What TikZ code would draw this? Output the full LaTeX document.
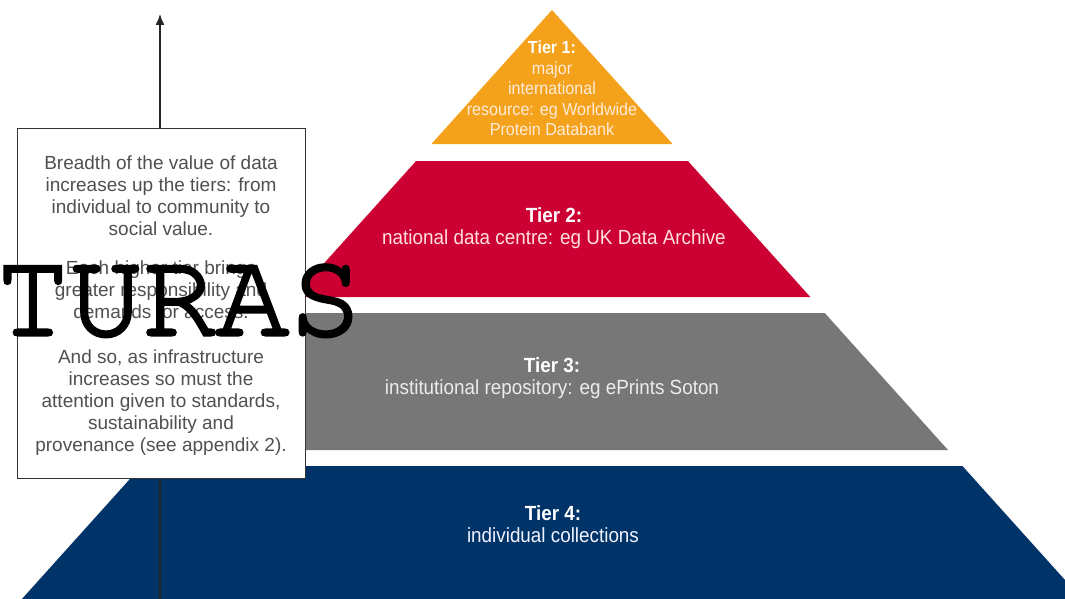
\documentclass[tikz,border=0pt]{standalone}
\usepackage{fontspec}
\setmainfont{Liberation Sans}
\newfontfamily\tierfont[FakeStretch=0.92]{Liberation Sans}
\newfontfamily\turasfont{texgyrecursor}[Extension=.otf, UprightFont=*-regular, FakeBold=2.5]
\usetikzlibrary{arrows.meta}
\definecolor{tierorange}{HTML}{F4A11C}
\definecolor{tierred}{HTML}{CC0033}
\definecolor{tiergray}{HTML}{777777}
\definecolor{tiernavy}{HTML}{003468}
\definecolor{boxtextgray}{HTML}{505050}
\definecolor{boxline}{HTML}{333333}
\tikzset{
  tierlabel/.style={align=center, inner sep=0pt, anchor=north},
  boxpara/.style={align=center, inner sep=0pt, anchor=north, text=boxtextgray,
    font=\fontsize{19}{22}\selectfont},
}
\begin{document}
\begin{tikzpicture}[x=1pt,y=-1pt]
\path[use as bounding box, fill=white] (0,0) rectangle (1065,599);
% tiers
\fill[tierorange] (552,10) -- (672.6,144) -- (431.4,144) -- cycle;
\fill[tierred] (416.1,161) -- (687.9,161) -- (810.3,297) -- (293.7,297) -- cycle;
\fill[tiergray] (279.3,313) -- (824.7,313) -- (948,450) -- (156,450) -- cycle;
\fill[tiernavy] (141.6,466) -- (962.4,466) -- (1065,580) -- (1065,599) -- (21.9,599) -- cycle;
% tier labels
\node[tierlabel, font=\tierfont\fontsize{17.5}{20.5}\selectfont, text=orange!15] (t1) at (552,41)
  {\textbf{\color{white}Tier 1:}\\major\\international\\resource: eg Worldwide\\Protein Databank};
\node[tierlabel, font=\tierfont\fontsize{20.5}{22}\selectfont, text=red!12] (t2) at (554,207)
  {\textbf{\color{white}Tier 2:}\\national data centre: eg UK Data Archive};
\node[tierlabel, font=\tierfont\fontsize{20.5}{22}\selectfont, text=gray!15] (t3) at (552,357)
  {\textbf{\color{white}Tier 3:}\\institutional repository: eg ePrints Soton};
\node[tierlabel, font=\tierfont\fontsize{20.5}{22}\selectfont, text=blue!5] (t4) at (553,505)
  {\textbf{\color{white}Tier 4:}\\individual collections};
% arrow
\coordinate (abot) at (160,599);
\coordinate (atop) at (160,14);
\draw[line width=1.4pt, draw=black!85, -{Latex[length=11pt,width=9pt]}] (abot) -- (atop);
% text box
\node[draw=boxline, fill=white, line width=1.2pt, minimum width=288pt, minimum height=350pt,
  inner sep=0pt, anchor=north west] (box) at (17,128) {};
\node[boxpara] (p1) at (161,156) {Breadth of the value of data\\increases up the tiers: from\\individual to community to\\social value.};
\node[boxpara] (p2) at (161,261) {Each higher tier brings\\greater responsibility and\\demands for access.};
\node[boxpara] (p3) at (161,350) {And so, as infrastructure\\increases so must the\\attention given to standards,\\sustainability and\\provenance (see appendix 2).};
% overlay word
\node[inner sep=0pt, anchor=base west, font=\turasfont\fontsize{122}{122}\selectfont] (turas) at (-4,335) {TURAS};
\end{tikzpicture}
\end{document}
